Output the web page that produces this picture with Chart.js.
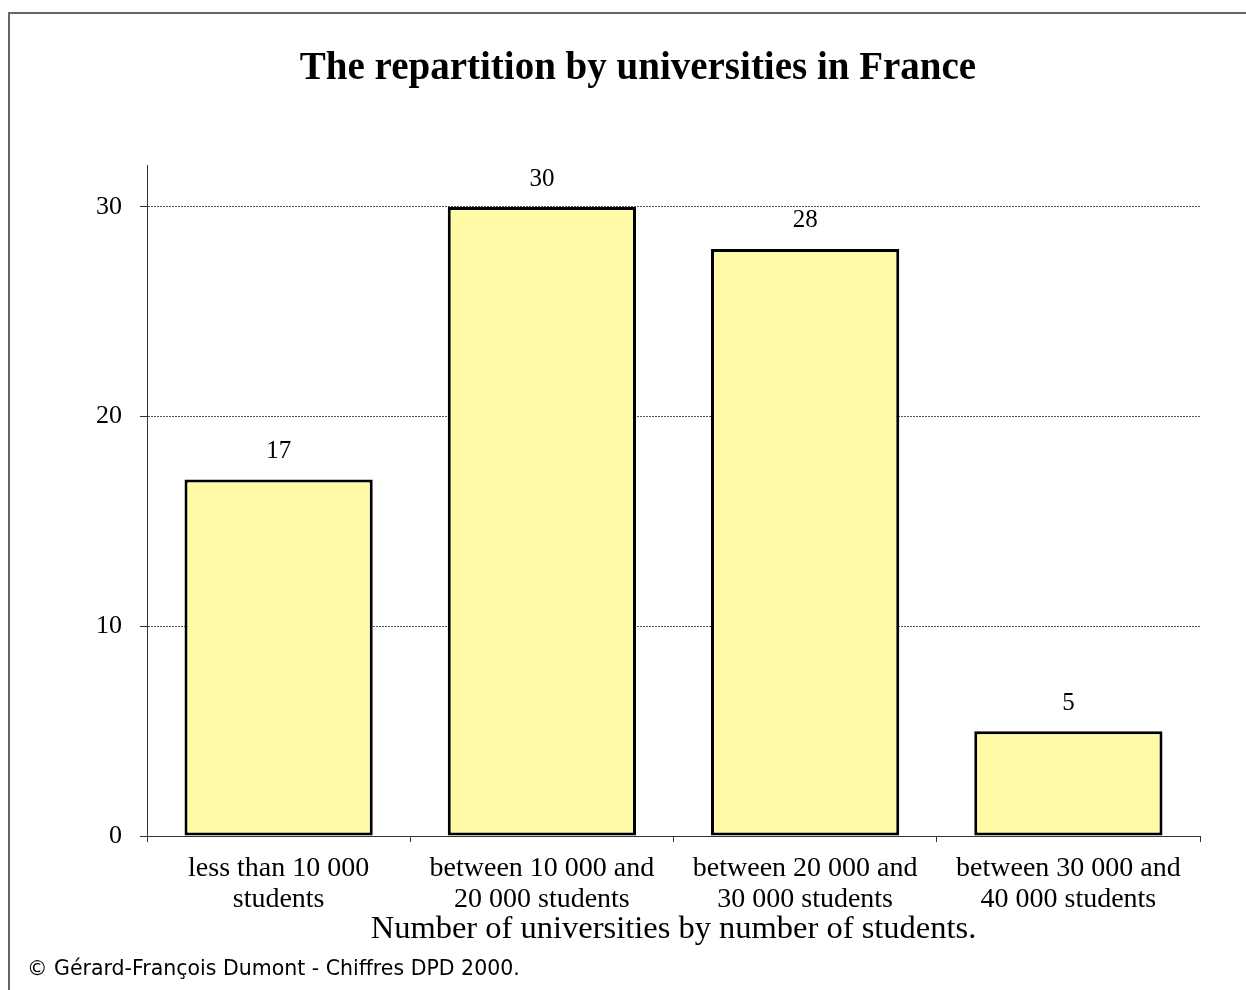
<!DOCTYPE html>
<html>
<head>
<meta charset="utf-8">
<script src="https://cdn.jsdelivr.net/npm/chart.js@4.4.1/dist/chart.umd.min.js"></script>
<style>
  html, body { margin:0; padding:0; background:#fff; }
  #wrap { position:relative; width:1246px; height:990px; overflow:hidden; }
  #frame { position:absolute; left:8px; top:12px; width:1400px; height:1200px; border-top:2px solid #666; border-left:2px solid #666; box-sizing:border-box; pointer-events:none; }
  #c { position:absolute; left:0; top:0; }
  #footer { position:absolute; left:27px; top:955px; font-family:"DejaVu Sans", sans-serif; font-size:20.5px; color:#000; white-space:nowrap; line-height:26px; }
</style>
</head>
<body>
<div id="wrap">
  <div id="frame"></div>
  <canvas id="c" width="1246" height="990"></canvas>
  <div id="footer">© Gérard-François Dumont - Chiffres DPD 2000.</div>
</div>
<script>
const chartTitle = "The repartition by universities in France";
const xAxisTitle = "Number of universities by number of students.";
const categories = [
  ["less than 10 000", "students"],
  ["between 10 000 and", "20 000 students"],
  ["between 20 000 and", "30 000 students"],
  ["between 30 000 and", "40 000 students"]
];
const universities = [17, 30, 28, 5];
const yTicks = [0, 10, 20, 30];
const yMax = 32;

const serif = "'Liberation Serif', 'Times New Roman', serif";

const valueLabels = {
  id: 'valueLabels',
  afterDatasetsDraw(chart) {
    const ctx = chart.ctx;
    const meta = chart.getDatasetMeta(0);
    ctx.save();
    ctx.font = "25px " + serif;
    ctx.fillStyle = "#000";
    ctx.textAlign = "center";
    ctx.textBaseline = "middle";
    meta.data.forEach((bar, i) => {
      ctx.fillText(String(chart.data.datasets[0].data[i]), bar.x, bar.y - 28);
    });
    ctx.restore();
  }
};

new Chart(document.getElementById('c'), {
  type: 'bar',
  data: {
    labels: categories,
    datasets: [{
      data: universities,
      backgroundColor: 'rgb(255,250,165)',
      borderColor: '#000',
      borderWidth: 3,
      borderSkipped: false,
      barPercentage: 0.715,
      categoryPercentage: 1.0
    }]
  },
  options: {
    responsive: false,
    animation: false,
    devicePixelRatio: 1,
    layout: { padding: { left: 76, right: 46, top: 46, bottom: 0 } },
    plugins: {
      legend: { display: false },
      tooltip: { enabled: false },
      title: {
        display: true,
        text: chartTitle,
        color: '#000',
        font: { family: serif, size: 39, weight: 'bold', lineHeight: 1.2 },
        padding: { top: 0, bottom: 72.2 }
      }
    },
    scales: {
      x: {
        grid: { display: true, drawOnChartArea: false, drawTicks: true, tickLength: 6, tickColor: '#333', offset: true },
        border: { display: true, color: '#333', width: 1 },
        ticks: { color: '#000', font: { family: serif, size: 28, lineHeight: 1.1 }, padding: 11, maxRotation: 0, autoSkip: false },
        title: {
          display: true,
          text: xAxisTitle,
          color: '#000',
          font: { family: serif, size: 32.5, lineHeight: 1.2 },
          padding: { top: 0, bottom: 41 }
        },
        afterFit(scale) { scale.height = 154; }
      },
      y: {
        min: 0,
        max: yMax,
        afterBuildTicks(scale) { scale.ticks = yTicks.map(v => ({ value: v })); },
        grid: {
          color: (c) => (c.tick && c.tick.value === 0) ? 'rgba(0,0,0,0)' : '#555',
          tickColor: '#333',
          tickLength: 7,
          tickBorderDash: [],
          drawTicks: true
        },
        border: { display: true, color: '#333', width: 1, dash: [2, 1] },
        ticks: { color: '#000', font: { family: serif, size: 26 }, padding: 18 },
        afterFit(scale) { scale.width = 71; }
      }
    }
  },
  plugins: [valueLabels]
});
</script>
</body>
</html>
